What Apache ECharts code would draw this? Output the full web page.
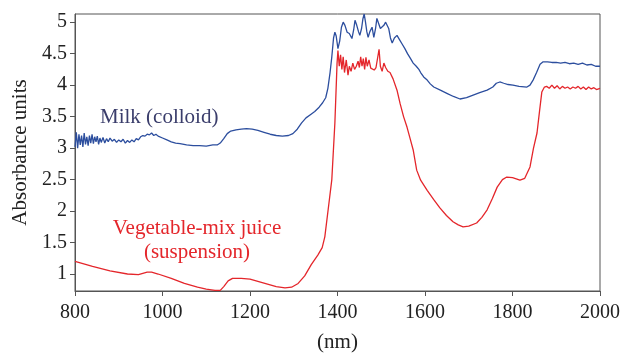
<!DOCTYPE html>
<html>
<head>
    <meta charset="utf-8">
    <title>Absorbance</title>
    <script src="https://cdn.jsdelivr.net/npm/echarts@6/dist/echarts.min.js"></script>
    <style>
        body { margin: 0; background: #fff; }
    </style>
</head>
<body>
<div id="main" style="width: 621px;height:353px;"></div>
<script>
    // wavelength (nm) / absorbance
    var milkNm = [800,803,806,809,812,815,818,821,824,827,830,833,836,839,842,845,848,851,854,857,860,864,868,872,876,880,885,890,895,900,905,910,915,920,925,930,935,940,945,950,955,960,965,970,975,980,985,990,1000,1010,1020,1030,1040,1055,1070,1085,1100,1115,1125,1132,1140,1148,1156,1168,1180,1192,1205,1218,1232,1246,1260,1274,1288,1298,1308,1318,1328,1338,1348,1358,1366,1373,1378,1383,1387,1391,1394,1397,1401,1405,1409,1413,1417,1422,1427,1433,1437,1440,1444,1448,1451,1455,1458,1461,1464,1467,1470,1474,1479,1483,1487,1490,1494,1498,1502,1506,1510,1513,1517,1521,1525,1530,1536,1542,1548,1554,1560,1567,1573,1580,1586,1590,1597,1605,1612,1620,1635,1650,1665,1680,1695,1710,1725,1742,1755,1763,1771,1780,1790,1801,1815,1833,1840,1847,1855,1863,1870,1880,1890,1900,1910,1920,1930,1940,1950,1960,1970,1980,1990,2000];
    var milkAbs = [3.02,3.25,3.0,3.22,3.05,3.2,3.02,3.24,3.06,3.18,3.04,3.2,3.08,3.22,3.07,3.18,3.1,3.19,3.06,3.16,3.09,3.17,3.08,3.15,3.1,3.16,3.11,3.14,3.09,3.13,3.1,3.14,3.08,3.12,3.09,3.13,3.1,3.15,3.13,3.18,3.2,3.19,3.22,3.21,3.24,3.2,3.22,3.19,3.16,3.13,3.1,3.08,3.07,3.05,3.04,3.04,3.03,3.05,3.05,3.08,3.15,3.23,3.27,3.29,3.3,3.31,3.3,3.28,3.25,3.22,3.2,3.19,3.2,3.23,3.3,3.4,3.48,3.53,3.58,3.65,3.72,3.8,3.95,4.2,4.45,4.75,4.84,4.78,4.58,4.7,4.92,5.0,4.95,4.84,4.82,4.74,4.88,5.03,4.95,4.85,4.79,4.9,5.05,5.13,5.0,4.85,4.76,4.85,4.92,4.76,4.9,5.06,4.98,4.9,4.87,4.95,5.0,5.03,4.9,4.75,4.67,4.75,4.79,4.72,4.65,4.58,4.5,4.42,4.35,4.3,4.25,4.2,4.13,4.08,4.02,3.97,3.92,3.87,3.82,3.78,3.8,3.84,3.88,3.92,3.97,4.03,4.05,4.03,4.01,4.0,3.98,3.97,4.0,4.08,4.2,4.33,4.37,4.37,4.36,4.36,4.35,4.36,4.34,4.35,4.33,4.35,4.32,4.33,4.3,4.3];

    var juiceNm = [800,840,880,920,945,955,965,975,990,1020,1050,1080,1100,1120,1132,1140,1150,1160,1180,1200,1220,1240,1260,1280,1295,1310,1325,1340,1355,1365,1371,1380,1387,1394,1399,1401,1404,1407,1410,1413,1416,1420,1424,1427,1431,1435,1439,1443,1447,1450,1453,1456,1459,1462,1465,1468,1472,1476,1480,1484,1488,1492,1495,1498,1502,1506,1510,1515,1520,1527,1536,1543,1551,1559,1566,1573,1581,1590,1605,1620,1634,1649,1664,1676,1687,1700,1718,1730,1742,1754,1765,1777,1787,1800,1817,1828,1840,1848,1856,1862,1867,1873,1878,1884,1890,1896,1902,1908,1914,1920,1926,1932,1938,1944,1950,1956,1962,1968,1974,1980,1986,1992,2000];
    var juiceAbs = [1.2,1.12,1.05,1.0,0.99,1.01,1.03,1.03,1.0,0.93,0.85,0.79,0.76,0.74,0.74,0.8,0.89,0.93,0.93,0.92,0.88,0.84,0.8,0.78,0.79,0.85,0.97,1.15,1.3,1.42,1.59,2.1,2.5,3.4,4.35,4.55,4.3,4.48,4.25,4.45,4.2,4.4,4.16,4.3,4.22,4.35,4.25,4.3,4.38,4.28,4.45,4.3,4.42,4.25,4.44,4.3,4.4,4.27,4.3,4.24,4.28,4.25,4.57,4.3,4.22,4.35,4.28,4.22,4.2,4.1,3.92,3.71,3.5,3.33,3.15,2.97,2.65,2.49,2.33,2.18,2.05,1.93,1.83,1.78,1.75,1.76,1.81,1.9,2.02,2.2,2.38,2.5,2.54,2.53,2.49,2.52,2.7,3.0,3.24,3.6,3.89,3.97,3.98,3.95,4.0,3.95,3.99,3.94,3.98,3.95,3.97,3.94,3.97,3.95,3.98,3.94,3.97,3.93,3.97,3.94,3.96,3.93,3.95];

    var yTicks = [1, 1.5, 2, 2.5, 3, 3.5, 4, 4.5, 5];

    var milkData = milkNm.map(function (x, i) { return [x, milkAbs[i]]; });
    var juiceData = juiceNm.map(function (x, i) { return [x, juiceAbs[i]]; });

    var font = 'Liberation Serif';
    var axisCol = '#555';

    var myChart = echarts.init(document.getElementById('main'));
    var option = {
        animation: false,
        grid: {
            left: 75, right: 21, top: 14, bottom: 62,
            outerBoundsMode: 'none',
            containLabel: false,
            show: true, borderColor: axisCol, borderWidth: 1
        },
        xAxis: {
            type: 'value',
            min: 800, max: 2000, interval: 200,
            name: '(nm)',
            nameLocation: 'middle',
            nameGap: 41,
            nameTextStyle: { fontFamily: font, fontSize: 21, color: '#222' },
            axisLine: { lineStyle: { color: axisCol } },
            axisTick: { length: 5, lineStyle: { color: axisCol } },
            axisLabel: {
                fontFamily: font, fontSize: 20, color: '#222', margin: 12,
                formatter: function (v) { return String(v); }
            },
            splitLine: { show: false }
        },
        yAxis: {
            type: 'value',
            min: 0.73, max: 5.13,
            name: 'Absorbance units',
            nameLocation: 'middle',
            nameGap: 44,
            nameTextStyle: { fontFamily: font, fontSize: 21, color: '#222' },
            axisLine: { show: true, lineStyle: { color: axisCol } },
            axisTick: { show: true, length: 5, customValues: yTicks, lineStyle: { color: axisCol } },
            axisLabel: { fontFamily: font, fontSize: 20, color: '#222', margin: 8, customValues: yTicks },
            splitLine: { show: false }
        },
        series: [
            {
                name: 'Milk (colloid)',
                type: 'line',
                data: milkData,
                showSymbol: false,
                lineStyle: { color: '#2c4e9e', width: 1.3 }
            },
            {
                name: 'Vegetable-mix juice (suspension)',
                type: 'line',
                data: juiceData,
                showSymbol: false,
                lineStyle: { color: '#e4262b', width: 1.3 }
            }
        ],
        graphic: [
            {
                type: 'text', x: 100, y: 117,
                style: { text: 'Milk (colloid)', fontFamily: font, fontSize: 21, fill: '#3a3d6b', verticalAlign: 'middle' }
            },
            {
                type: 'text', x: 197, y: 228,
                style: { text: 'Vegetable-mix juice', fontFamily: font, fontSize: 21, fill: '#e4262b', align: 'center', verticalAlign: 'middle' }
            },
            {
                type: 'text', x: 197, y: 252,
                style: { text: '(suspension)', fontFamily: font, fontSize: 21, fill: '#e4262b', align: 'center', verticalAlign: 'middle' }
            }
        ]
    };
    myChart.setOption(option);
</script>
</body>
</html>
